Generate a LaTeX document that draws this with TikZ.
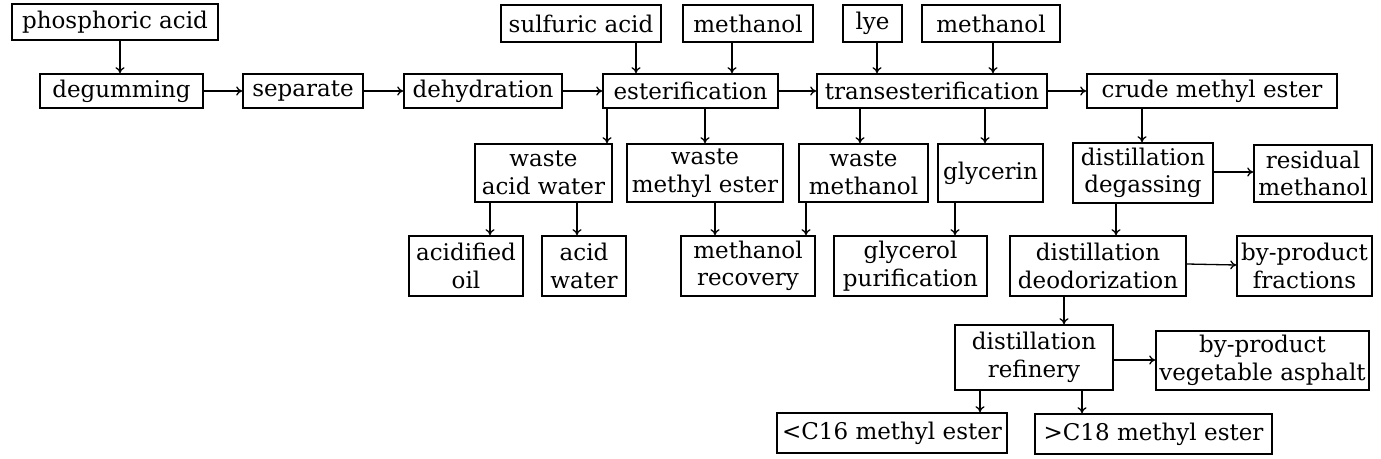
\documentclass[tikz,border=0pt]{standalone}
\usepackage{fontspec}
\setmainfont{DejaVu Serif}
\usetikzlibrary{arrows.meta}
\begin{document}
\begin{tikzpicture}[x=1pt,y=1pt,
  box/.style={draw,line width=1.6pt,inner sep=0pt,align=center,font=\fontsize{23}{27.5}\selectfont},
  arr/.style={line width=1.3pt,-{To[length=6pt,width=9pt]}}]
\useasboundingbox (0,0) rectangle (1381,-458);
% row 1
\node[box,minimum width=206,minimum height=36] (phos) at (115,-22) {phosphoric acid};
\node[box,minimum width=160,minimum height=37] (sulf) at (581,-23.5) {sulfuric acid};
\node[box,minimum width=130,minimum height=37] (methA) at (748,-23.5) {methanol};
\node[box,minimum width=59,minimum height=37] (lye) at (872.5,-23.5) {lye};
\node[box,minimum width=138,minimum height=37] (methB) at (991,-23.5) {methanol};
% row 2
\node[box,minimum width=163,minimum height=34] (degum) at (121.5,-91) {degumming};
\node[box,minimum width=120,minimum height=34] (sep) at (303,-91) {separate};
\node[box,minimum width=158,minimum height=34] (dehyd) at (483,-91) {dehydration};
\node[box,minimum width=175,minimum height=34] (ester) at (690.5,-91) {esterification};
\node[box,minimum width=230,minimum height=34] (trans) at (932,-91) {transesterification};
\node[box,minimum width=250,minimum height=34] (crude) at (1212,-91) {crude methyl ester};
% row 3
\node[box,minimum width=137,minimum height=58] (wacid) at (543.5,-173) {waste\\acid water};
\node[box,minimum width=156,minimum height=58] (wmest) at (705,-173) {waste\\methyl ester};
\node[box,minimum width=129,minimum height=58] (wmeth) at (863.5,-173) {waste\\methanol};
\node[box,minimum width=105,minimum height=58] (glyc) at (990.5,-173) {glycerin};
\node[box,minimum width=140,minimum height=60] (degas) at (1143,-173) {distillation\\degassing};
\node[box,minimum width=118,minimum height=57] (resid) at (1313,-173.5) {residual\\methanol};
% row 4
\node[box,minimum width=114,minimum height=60] (aoil) at (466,-266) {acidified\\oil};
\node[box,minimum width=84,minimum height=60] (awat) at (584,-266) {acid\\water};
\node[box,minimum width=134,minimum height=60] (mrec) at (748,-266) {methanol\\recovery};
\node[box,minimum width=153,minimum height=60] (gpur) at (910.5,-266) {glycerol\\purification};
\node[box,minimum width=176,minimum height=60] (deod) at (1098,-266) {distillation\\deodorization};
\node[box,minimum width=135,minimum height=60] (frac) at (1304.5,-266) {by-product\\fractions};
% row 5
\node[box,minimum width=158,minimum height=65] (refin) at (1034,-357.5) {distillation\\refinery};
\node[box,minimum width=213,minimum height=59] (asph) at (1262.5,-360.5) {by-product\\vegetable asphalt};
% row 6
\node[box,minimum width=230,minimum height=40] (cs) at (892,-433) {<C16 methyl ester};
\node[box,minimum width=237,minimum height=40] (cl) at (1153.5,-434) {>C18 methyl ester};
% arrows row 1 -> row 2
\draw[arr] (phos.south -| 120,0) -- (degum.north -| 120,0);
\draw[arr] (sulf.south -| 636,0) -- (ester.north -| 636,0);
\draw[arr] (methA.south -| 732,0) -- (ester.north -| 732,0);
\draw[arr] (lye.south -| 877,0) -- (trans.north -| 877,0);
\draw[arr] (methB.south -| 993,0) -- (trans.north -| 993,0);
% main line
\draw[arr] (degum.east) -- (sep.west);
\draw[arr] (sep.east) -- (dehyd.west);
\draw[arr] (dehyd.east) -- (ester.west);
\draw[arr] (ester.east) -- (trans.west);
\draw[arr] (trans.east) -- (crude.west);
% row 2 -> row 3
\draw[arr] (ester.south -| 607,0) -- (wacid.north -| 607,0);
\draw[arr] (ester.south -| 705,0) -- (wmest.north -| 705,0);
\draw[arr] (trans.south -| 860,0) -- (wmeth.north -| 860,0);
\draw[arr] (trans.south -| 985,0) -- (glyc.north -| 985,0);
\draw[arr] (crude.south -| 1142,0) -- (degas.north -| 1142,0);
% row 3 -> row 4
\draw[arr] (wacid.south -| 490,0) -- (aoil.north -| 490,0);
\draw[arr] (wacid.south -| 577,0) -- (awat.north -| 577,0);
\draw[arr] (wmest.south -| 715,0) -- (mrec.north -| 715,0);
\draw[arr] (wmeth.south -| 806,0) -- (mrec.north -| 806,0);
\draw[arr] (glyc.south -| 955,0) -- (gpur.north -| 955,0);
\draw[arr] (degas.east |- 0,-172) -- (resid.west |- 0,-172);
\draw[arr] (degas.south -| 1116,0) -- (deod.north -| 1116,0);
% row 4 -> row 5
\draw[arr] (deod.east |- 0,-264) -- (frac.west |- 0,-265);
\draw[arr] (deod.south -| 1064,0) -- (refin.north -| 1064,0);
% row 5 -> row 6
\draw[arr] (refin.east |- 0,-360) -- (asph.west |- 0,-360);
\draw[arr] (refin.south -| 980,0) -- (cs.north -| 980,0);
\draw[arr] (refin.south -| 1082,0) -- (cl.north -| 1082,0);
\end{tikzpicture}
\end{document}
